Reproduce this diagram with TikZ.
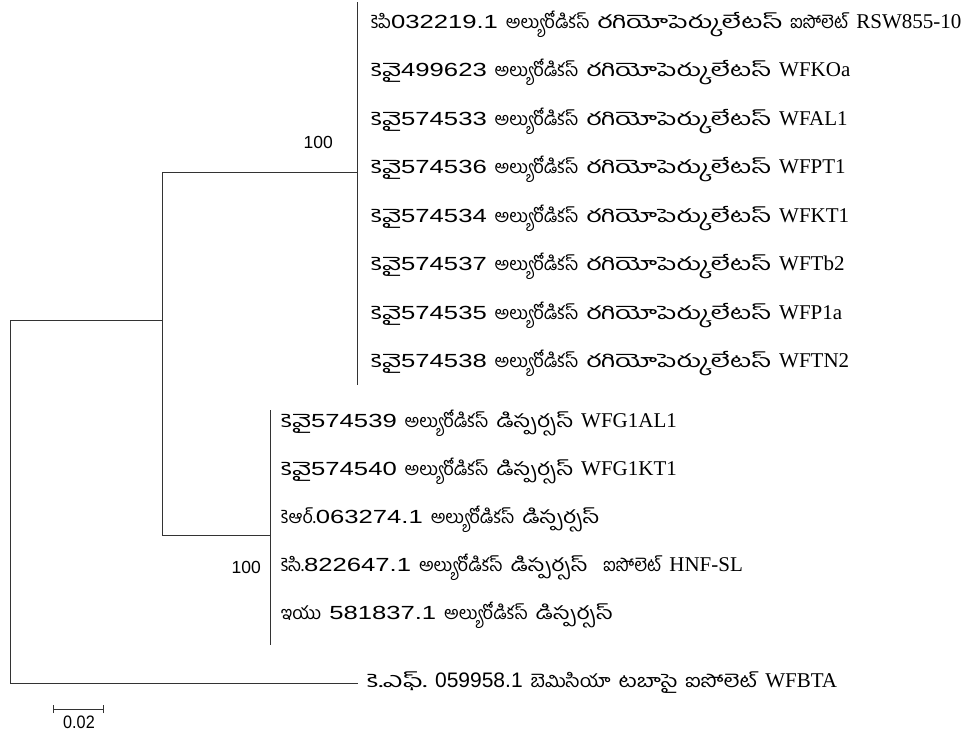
\documentclass[tikz,border=0pt]{standalone}
\usepackage{graphicx}
\usepackage{fontspec}
\newfontfamily\te[Script=Telugu,WordSpace=1.8]{Hind Guntur}
\newfontfamily\latf{Liberation Serif}
\newfontfamily\sans{Liberation Sans}
\newfontfamily\wsans[FakeStretch=1.35]{Liberation Sans}
\newfontfamily\nsans[FakeStretch=0.9]{Liberation Sans}
\newcommand\dg[1]{{\wsans\fontsize{19}{21}\selectfont #1}}
\newcommand\odg[1]{{\sans\fontsize{21}{23}\selectfont #1}}
\newcommand\lt[1]{{\latf\fontsize{21}{23}\selectfont #1}}
\newcommand\hz[2]{\resizebox{#1pt}{\height}{#2}}
\newcommand\RG{\hz{185}{రగియోపెర్కులేటస్}}
\newcommand\DS{\hz{77}{డిస్పర్సస్}}
\newcommand\KV{\hz{30}{కెవై}}
\begin{document}
\begin{tikzpicture}[x=1pt,y=-1pt,
  branch/.style={draw=black!80,line width=0.8pt},
  leaf/.style={anchor=base west,inner sep=0pt,font=\te\fontsize{18}{20}\selectfont},
  boot/.style={anchor=base east,inner sep=0pt,font=\sans\fontsize{17.5}{19}\selectfont}]
\useasboundingbox (0,0) rectangle (971,731);
% internal nodes
\coordinate (rt) at (10,320);
\coordinate (rb) at (10,683);
\coordinate (at) at (162,172);
\coordinate (ab) at (162,535);
\coordinate (bt) at (357,2);
\coordinate (bb) at (357,385);
\coordinate (ct) at (270,410);
\coordinate (cb) at (270,645);
\coordinate (og) at (358,683);
% leaves
\node[leaf] (l1) at (371,28) {కెపి\dg{032219.1} అల్యురోడికస్ \RG{} ఐసోలెట్ \lt{RSW855-10}};
\node[leaf] (l2) at (371,76.5) {\KV\dg{499623} అల్యురోడికస్ \RG{} \lt{WFKOa}};
\node[leaf] (l3) at (371,125) {\KV\dg{574533} అల్యురోడికస్ \RG{} \lt{WFAL1}};
\node[leaf] (l4) at (371,173.5) {\KV\dg{574536} అల్యురోడికస్ \RG{} \lt{WFPT1}};
\node[leaf] (l5) at (371,222) {\KV\dg{574534} అల్యురోడికస్ \RG{} \lt{WFKT1}};
\node[leaf] (l6) at (371,270.5) {\KV\dg{574537} అల్యురోడికస్ \RG{} \lt{WFTb2}};
\node[leaf] (l7) at (371,319) {\KV\dg{574535} అల్యురోడికస్ \RG{} \lt{WFP1a}};
\node[leaf] (l8) at (371,367.5) {\KV\dg{574538} అల్యురోడికస్ \RG{} \lt{WFTN2}};
\node[leaf] (l9) at (281,427) {\KV\dg{574539} అల్యురోడికస్ \DS{} \lt{WFG1AL1}};
\node[leaf] (l10) at (281,475) {\KV\dg{574540} అల్యురోడికస్ \DS{} \lt{WFG1KT1}};
\node[leaf] (l11) at (281,523) {కెఆర్.\dg{063274.1} అల్యురోడికస్ \DS};
\node[leaf] (l12) at (281,571) {కెసి.\dg{822647.1} అల్యురోడికస్ \DS{} \ ఐసోలెట్ \lt{HNF-SL}};
\node[leaf] (l13) at (281,619) {ఇయు \dg{581837.1} అల్యురోడికస్ \DS};
\node[leaf] (l14) at (367,687) {\hz{60}{కె.ఎఫ్.} \odg{059958.1} \hz{80}{బెమిసియా} \hz{59}{టబాసై} \hz{72}{ఐసోలెట్} \lt{WFBTA}};
% bootstrap
\node[boot] (b1) at (333,148) {100};
\node[boot] (b2) at (261,573) {100};
% branches
\draw[branch] (rt) -- (rb);
\draw[branch] (rt) -- (rt -| at);
\draw[branch] (at) -- (ab);
\draw[branch] (at) -- (at -| bt);
\draw[branch] (bt) -- (bb);
\draw[branch] (ab) -- (ab -| ct);
\draw[branch] (ct) -- (cb);
\draw[branch] (rb) -- (og);
% scale bar
\coordinate (s1) at (53,709);
\coordinate (s2) at (103,709);
\draw[branch] (s1) -- (s2);
\draw[branch] ([yshift=-4]s1) -- ([yshift=4]s1);
\draw[branch] ([yshift=-4]s2) -- ([yshift=4]s2);
\node[anchor=base,inner sep=0pt,font=\nsans\fontsize{18}{20}\selectfont] (sl) at (79,728) {0.02};
\end{tikzpicture}
\end{document}
